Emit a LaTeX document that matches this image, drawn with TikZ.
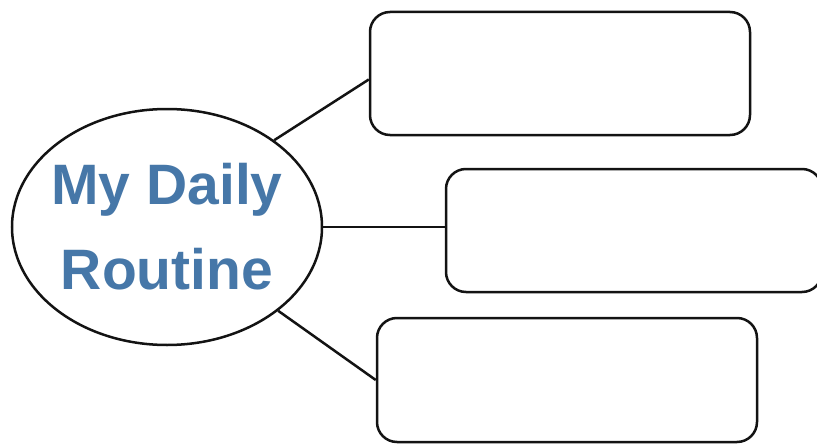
\documentclass[tikz,border=0pt]{standalone}
\usepackage{fontspec}
\setmainfont{Liberation Sans}
\usepackage{xcolor}
\definecolor{routine-blue}{HTML}{4677A8}
\definecolor{routine-black}{HTML}{131313}
\usetikzlibrary{shapes.geometric}

\newcommand{\hubline}[1]{\makebox[0pt]{#1}}

\tikzset{
    hub/.style={ellipse, draw=routine-black, line width=2.5pt, minimum width=310pt, minimum height=236pt, inner sep=0pt,
        font=\bfseries\fontsize{57}{85}\selectfont, text=routine-blue, align=center},
    slot/.style={rectangle, draw=routine-black, line width=2.5pt, rounded corners=20pt, minimum width=380pt, minimum height=123pt, inner sep=0pt},
    link/.style={draw=routine-black, line width=2.5pt}
}

\begin{document}
\begin{tikzpicture}[x=1pt, y=-1pt]

    \useasboundingbox (0, 0) rectangle (817, 444);
    \clip (0, 0) rectangle (817, 444);
    \fill[white] (0, 0) rectangle (817, 444);

    % Hub
    \node[hub] (routine) at (167, 227) {\hubline{My Daily}\\\hubline{Routine}};

    % Boxes
    \node[slot] (morning) at (560, 73.5) {};
    \node[slot, minimum width=376pt] (afternoon) at (634, 230.5) {};
    \node[slot, minimum height=124pt] (evening) at (567, 380) {};

    % Links
    \draw[link] (routine.39) -- ([yshift=-6pt]morning.west);
    \draw[link] (routine.east) -- (routine.east -| afternoon.west);
    \draw[link] (routine.-37) -- (evening.west);

\end{tikzpicture}
\end{document}
